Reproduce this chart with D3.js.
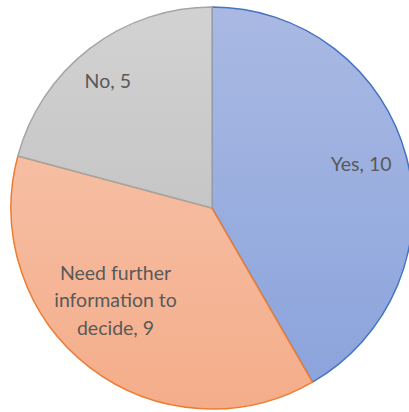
<!DOCTYPE html>
<html>
<head>
<meta charset="utf-8">
<script src="https://cdn.jsdelivr.net/npm/d3@7"></script>
<style>
  html, body { margin: 0; padding: 0; background: #ffffff; }
  svg { display: block; }
</style>
</head>
<body>
<svg id="chart" width="409" height="412"></svg>
<script>
// Survey responses
const categories = ["Yes", "Need further information to decide", "No"];
const values = [10, 9, 5];
const labelLines = [["Yes, 10"], ["Need further", "information to", "decide, 9"], ["No, 5"]];

const fillTop = ["#a9b9e3", "#f6bea3", "#d2d2d2"];
const fillBottom = ["#8ca4dc", "#f4ad8a", "#c6c6c6"];
const strokes = ["#4472c4", "#ed7d31", "#a5a5a5"];

const svg = d3.select("#chart");
const cx = 212, cy = 208, r = 201;

const defs = svg.append("defs");
categories.forEach((c, i) => {
  const g = defs.append("linearGradient")
    .attr("id", "grad" + i)
    .attr("x1", 0).attr("y1", 0).attr("x2", 0).attr("y2", 1);
  g.append("stop").attr("offset", "0%").attr("stop-color", fillTop[i]);
  g.append("stop").attr("offset", "100%").attr("stop-color", fillBottom[i]);
});

const pie = d3.pie().sort(null).value(d => d)(values);
const arc = d3.arc().innerRadius(0).outerRadius(r);

const g = svg.append("g").attr("transform", `translate(${cx},${cy})`);

g.selectAll("path.slice")
  .data(pie)
  .join("path")
  .attr("class", "slice")
  .attr("d", arc)
  .attr("fill", (d, i) => `url(#grad${i})`)
  .attr("stroke", (d, i) => strokes[i])
  .attr("stroke-width", 1.5)
  .attr("stroke-linejoin", "round");

// Labels: placed at a fraction of the radius, near each slice's mid-angle
const labelRadius = [0.775, 0.66, 0.82];
const labelTurn = [-0.03, 0.16, -0.03]; // radians away from the mid-angle
const lineH = 27.5;
pie.forEach((d, i) => {
  const a = (d.startAngle + d.endAngle) / 2 + labelTurn[i];
  const rr = r * labelRadius[i];
  const x = Math.sin(a) * rr;
  const y = -Math.cos(a) * rr;
  const lines = labelLines[i];
  const t = g.append("text")
    .attr("x", x)
    .attr("y", y - (lines.length - 1) * lineH / 2)
    .attr("text-anchor", "middle")
    .attr("dominant-baseline", "central")
    .attr("font-family", "Lato, 'Open Sans', sans-serif")
    .attr("font-size", 19.5)
    .attr("fill", "#595959");
  lines.forEach((ln, j) => {
    t.append("tspan").attr("x", x).attr("dy", j === 0 ? 0 : lineH).text(ln);
  });
});
</script>
</body>
</html>
